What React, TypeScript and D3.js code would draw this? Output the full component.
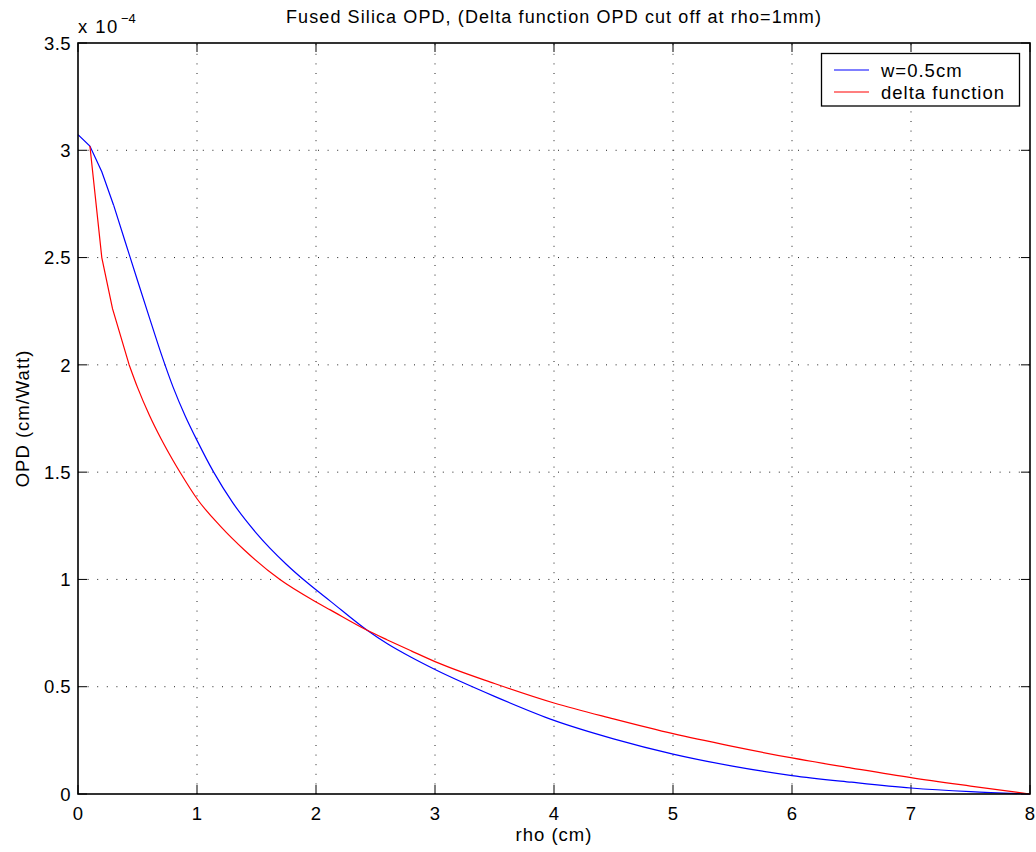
import React from "react";
import * as d3 from "d3";

const blueRho = [0, 0.1, 0.2, 0.3, 0.4, 0.5, 0.6, 0.7, 0.8, 0.9, 1.0, 1.14, 1.3, 1.5, 1.75, 1.93, 2.12, 2.43, 2.6, 2.8, 3.0, 3.5, 4.0, 4.5, 5.0, 5.5, 6.0, 6.5, 7.0, 7.5, 8.0];
const blueOPD = [3.073, 3.02, 2.9, 2.743, 2.568, 2.393, 2.22, 2.05, 1.895, 1.763, 1.648, 1.5, 1.358, 1.215, 1.071, 0.983, 0.899, 0.763, 0.7, 0.637, 0.58, 0.455, 0.343, 0.257, 0.186, 0.13, 0.086, 0.055, 0.028, 0.011, 0.0];
const redRho = [0.1, 0.2, 0.29, 0.43, 0.5, 0.6, 0.7, 0.8, 0.86, 1.0, 1.2, 1.4, 1.7, 2.0, 2.12, 2.43, 2.6, 2.8, 3.0, 3.5, 4.0, 4.5, 5.0, 5.5, 6.0, 6.5, 7.0, 7.5, 8.0];
const redOPD = [3.02, 2.5, 2.262, 2.0, 1.895, 1.765, 1.653, 1.553, 1.497, 1.376, 1.246, 1.136, 0.998, 0.895, 0.858, 0.763, 0.718, 0.667, 0.617, 0.515, 0.424, 0.35, 0.281, 0.222, 0.168, 0.121, 0.076, 0.037, 0.0];

const xTicks = [0, 1, 2, 3, 4, 5, 6, 7, 8];
const yTicks = [0, 0.5, 1, 1.5, 2, 2.5, 3, 3.5];
const yTickLabels = ["0", "0.5", "1", "1.5", "2", "2.5", "3", "3.5"];
const seriesNames = ["w=0.5cm", "delta function"];
const seriesColors = ["#0000ff", "#ff0000"];

const W = 1036, H = 852;
const L = 78, T = 43, R = 1030, B = 794;
const FONT = "'Liberation Sans', Arial, Helvetica, sans-serif";

export default function App() {
  const x = d3.scaleLinear().domain([0, 8]).range([L, R]);
  const y = d3.scaleLinear().domain([0, 3.5]).range([B, T]);
  const line = d3.line<[number, number]>().x(d => x(d[0])).y(d => y(d[1])).curve(d3.curveMonotoneX);
  const lineLin = d3.line<[number, number]>().x(d => x(d[0])).y(d => y(d[1]));
  const blue = blueRho.map((r, i) => [r, blueOPD[i]] as [number, number]);
  const red = redRho.map((r, i) => [r, redOPD[i]] as [number, number]);
  const tickLen = 9;
  return (
    <svg width={W} height={H} style={{ position: "absolute", left: 0, top: 0, background: "#fff" }} fontFamily={FONT}>
      <rect x={0} y={0} width={W} height={H} fill="#fff" />
      {xTicks.slice(1, -1).map(t => (
        <line key={"gx" + t} x1={x(t)} x2={x(t)} y1={B} y2={T} stroke="#222" strokeWidth={1} strokeDasharray="1,8.6" />
      ))}
      {yTicks.slice(1, -1).map(t => (
        <line key={"gy" + t} x1={L} x2={R} y1={y(t)} y2={y(t)} stroke="#222" strokeWidth={1} strokeDasharray="1,8.6" />
      ))}
      {xTicks.map(t => (
        <g key={"tx" + t}>
          <line x1={x(t)} x2={x(t)} y1={B} y2={B - tickLen} stroke="#000" strokeWidth={1} />
          <line x1={x(t)} x2={x(t)} y1={T} y2={T + tickLen} stroke="#000" strokeWidth={1} />
          <text x={x(t)} y={820} textAnchor="middle" fontSize={18.5}>{t}</text>
        </g>
      ))}
      {yTicks.map((t, i) => (
        <g key={"ty" + t}>
          <line x1={L} x2={L + tickLen} y1={y(t)} y2={y(t)} stroke="#000" strokeWidth={1} />
          <line x1={R} x2={R - tickLen} y1={y(t)} y2={y(t)} stroke="#000" strokeWidth={1} />
          <text x={71} y={y(t) + 6.7} textAnchor="end" fontSize={18.5} letterSpacing={0.4}>{yTickLabels[i]}</text>
        </g>
      ))}
      <path d={lineLin(blue.slice(0, 4)) ?? ""} fill="none" stroke={seriesColors[0]} strokeWidth={1.2} />
      <path d={line(blue.slice(3)) ?? ""} fill="none" stroke={seriesColors[0]} strokeWidth={1.2} />
      <path d={lineLin(red.slice(0, 4)) ?? ""} fill="none" stroke={seriesColors[1]} strokeWidth={1.2} />
      <path d={line(red.slice(3)) ?? ""} fill="none" stroke={seriesColors[1]} strokeWidth={1.2} />
      <rect x={L} y={T} width={R - L} height={B - T} fill="none" stroke="#000" strokeWidth={1.6} />
      <text x={78} y={33} fontSize={18.5} letterSpacing={1.4}>x 10</text>
      <text x={121} y={23} fontSize={13}>−4</text>
      <text x={(L + R) / 2} y={23} textAnchor="middle" fontSize={18} letterSpacing={1.1}>Fused Silica OPD, (Delta function OPD cut off at rho=1mm)</text>
      <text x={(L + R) / 2} y={841} textAnchor="middle" fontSize={18.5} letterSpacing={1}>rho (cm)</text>
      <text transform={`translate(29, ${(T + B) / 2}) rotate(-90)`} textAnchor="middle" fontSize={18.5} letterSpacing={1}>OPD (cm/Watt)</text>
      <rect x={821.5} y={53.5} width={198} height={52.5} fill="#fff" stroke="#000" strokeWidth={1.3} />
      {seriesNames.map((n, i) => (
        <g key={n}>
          <line x1={834} x2={869} y1={70 + i * 22} y2={70 + i * 22} stroke={seriesColors[i]} strokeWidth={1.2} />
          <text x={881} y={76.5 + i * 22} fontSize={18.5} letterSpacing={1}>{n}</text>
        </g>
      ))}
    </svg>
  );
}
